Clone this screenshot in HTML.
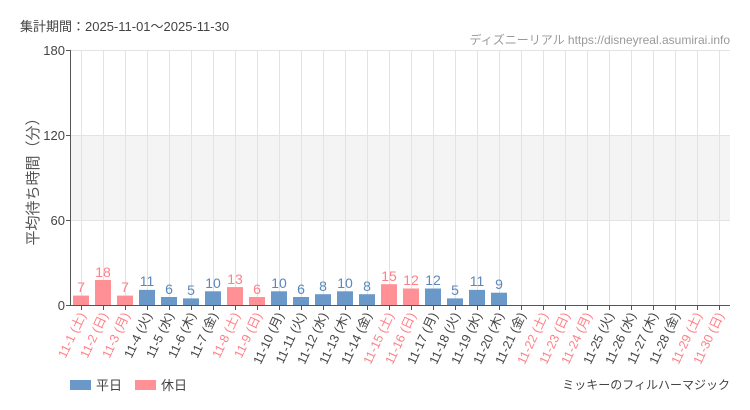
<!DOCTYPE html>
<html><head><meta charset="utf-8"><style>
body{margin:0;background:#fff;}
svg{display:block;font-family:"Liberation Sans","Noto Sans CJK JP",sans-serif;}
.v{font-family:"Liberation Sans Narrow","Liberation Sans","Noto Sans CJK JP",sans-serif;font-size:14px;text-anchor:middle;}
.x{font-size:12.5px;text-anchor:end;}
.b{fill:#6a98c8}.h{fill:#ff9095}
.tb{fill:#5a88b8}.th{fill:#ff8088}
.lb{fill:#444}.lh{fill:#ff8088}
</style></head><body>
<svg width="750" height="410" viewBox="0 0 750 410">
<text x="20" y="31" font-size="13" fill="#444">集計期間：2025-11-01～2025-11-30</text>
<text x="730" y="44" font-size="12" fill="#999" text-anchor="end" font-family="Liberation Sans Narrow,Liberation Sans,Noto Sans CJK JP,sans-serif">ディズニーリアル https://disneyreal.asumirai.info</text>
<rect x="70" y="135.5" width="660" height="85" fill="#f4f4f4"/>
<g stroke="#e3e3e3" stroke-width="1">
<line x1="70" y1="50.5" x2="730" y2="50.5"/><line x1="70" y1="135.5" x2="730" y2="135.5"/><line x1="70" y1="220.5" x2="730" y2="220.5"/>
<path d="M81.5 51V305M103.5 51V305M125.5 51V305M147.5 51V305M169.5 51V305M191.5 51V305M213.5 51V305M235.5 51V305M257.5 51V305M279.5 51V305M301.5 51V305M323.5 51V305M345.5 51V305M367.5 51V305M389.5 51V305M411.5 51V305M433.5 51V305M455.5 51V305M477.5 51V305M499.5 51V305M521.5 51V305M543.5 51V305M565.5 51V305M587.5 51V305M609.5 51V305M631.5 51V305M653.5 51V305M675.5 51V305M697.5 51V305M719.5 51V305"/>
</g>
<g>
<rect class="h" x="73" y="295.6" width="16" height="9.9"/>
<rect class="h" x="95" y="280" width="16" height="25.5"/>
<rect class="h" x="117" y="295.6" width="16" height="9.9"/>
<rect class="b" x="139" y="289.9" width="16" height="15.6"/>
<rect class="b" x="161" y="297" width="16" height="8.5"/>
<rect class="b" x="183" y="298.4" width="16" height="7.1"/>
<rect class="b" x="205" y="291.3" width="16" height="14.2"/>
<rect class="h" x="227" y="287.1" width="16" height="18.4"/>
<rect class="h" x="249" y="297" width="16" height="8.5"/>
<rect class="b" x="271" y="291.3" width="16" height="14.2"/>
<rect class="b" x="293" y="297" width="16" height="8.5"/>
<rect class="b" x="315" y="294.2" width="16" height="11.3"/>
<rect class="b" x="337" y="291.3" width="16" height="14.2"/>
<rect class="b" x="359" y="294.2" width="16" height="11.3"/>
<rect class="h" x="381" y="284.2" width="16" height="21.3"/>
<rect class="h" x="403" y="288.5" width="16" height="17"/>
<rect class="b" x="425" y="288.5" width="16" height="17"/>
<rect class="b" x="447" y="298.4" width="16" height="7.1"/>
<rect class="b" x="469" y="289.9" width="16" height="15.6"/>
<rect class="b" x="491" y="292.7" width="16" height="12.8"/>
</g>
<g class="v">
<text class="th" x="81" y="292">7</text><text class="th" x="103" y="277">18</text><text class="th" x="125" y="292">7</text>
<text class="tb" x="147" y="286">11</text><text class="tb" x="169" y="294">6</text><text class="tb" x="191" y="295">5</text>
<text class="tb" x="213" y="288">10</text><text class="th" x="235" y="284">13</text><text class="th" x="257" y="294">6</text>
<text class="tb" x="279" y="288">10</text><text class="tb" x="301" y="294">6</text><text class="tb" x="323" y="291">8</text>
<text class="tb" x="345" y="288">10</text><text class="tb" x="367" y="291">8</text><text class="th" x="389" y="281">15</text>
<text class="th" x="411" y="285">12</text><text class="tb" x="433" y="285">12</text><text class="tb" x="455" y="295">5</text>
<text class="tb" x="477" y="286">11</text><text class="tb" x="499" y="289">9</text>
</g>
<g stroke="#555" stroke-width="1">
<line x1="70.5" y1="50" x2="70.5" y2="306"/>
<line x1="70" y1="305.5" x2="730" y2="305.5"/>
<path d="M66 50.5H70M66 135.5H70M66 220.5H70M66 305.5H70"/>
<path d="M81.5 305V310M103.5 305V310M125.5 305V310M147.5 305V310M169.5 305V310M191.5 305V310M213.5 305V310M235.5 305V310M257.5 305V310M279.5 305V310M301.5 305V310M323.5 305V310M345.5 305V310M367.5 305V310M389.5 305V310M411.5 305V310M433.5 305V310M455.5 305V310M477.5 305V310M499.5 305V310M521.5 305V310M543.5 305V310M565.5 305V310M587.5 305V310M609.5 305V310M631.5 305V310M653.5 305V310M675.5 305V310M697.5 305V310M719.5 305V310"/>
</g>
<g font-size="13" fill="#444" text-anchor="end">
<text x="65" y="55">180</text><text x="65" y="140">120</text><text x="65" y="225">60</text><text x="65" y="310">0</text>
</g>
<text transform="translate(38,178) rotate(-90)" font-size="15" fill="#555" text-anchor="middle">平均待ち時間（分）</text>
<g class="x">
<text class="lh" transform="translate(86,315) rotate(-65)">11-1 (土)</text>
<text class="lh" transform="translate(108,315) rotate(-65)">11-2 (日)</text>
<text class="lh" transform="translate(130,315) rotate(-65)">11-3 (月)</text>
<text class="lb" transform="translate(152,315) rotate(-65)">11-4 (火)</text>
<text class="lb" transform="translate(174,315) rotate(-65)">11-5 (水)</text>
<text class="lb" transform="translate(196,315) rotate(-65)">11-6 (木)</text>
<text class="lb" transform="translate(218,315) rotate(-65)">11-7 (金)</text>
<text class="lh" transform="translate(240,315) rotate(-65)">11-8 (土)</text>
<text class="lh" transform="translate(262,315) rotate(-65)">11-9 (日)</text>
<text class="lb" transform="translate(284,315) rotate(-65)">11-10 (月)</text>
<text class="lb" transform="translate(306,315) rotate(-65)">11-11 (火)</text>
<text class="lb" transform="translate(328,315) rotate(-65)">11-12 (水)</text>
<text class="lb" transform="translate(350,315) rotate(-65)">11-13 (木)</text>
<text class="lb" transform="translate(372,315) rotate(-65)">11-14 (金)</text>
<text class="lh" transform="translate(394,315) rotate(-65)">11-15 (土)</text>
<text class="lh" transform="translate(416,315) rotate(-65)">11-16 (日)</text>
<text class="lb" transform="translate(438,315) rotate(-65)">11-17 (月)</text>
<text class="lb" transform="translate(460,315) rotate(-65)">11-18 (火)</text>
<text class="lb" transform="translate(482,315) rotate(-65)">11-19 (水)</text>
<text class="lb" transform="translate(504,315) rotate(-65)">11-20 (木)</text>
<text class="lb" transform="translate(526,315) rotate(-65)">11-21 (金)</text>
<text class="lh" transform="translate(548,315) rotate(-65)">11-22 (土)</text>
<text class="lh" transform="translate(570,315) rotate(-65)">11-23 (日)</text>
<text class="lh" transform="translate(592,315) rotate(-65)">11-24 (月)</text>
<text class="lb" transform="translate(614,315) rotate(-65)">11-25 (火)</text>
<text class="lb" transform="translate(636,315) rotate(-65)">11-26 (水)</text>
<text class="lb" transform="translate(658,315) rotate(-65)">11-27 (木)</text>
<text class="lb" transform="translate(680,315) rotate(-65)">11-28 (金)</text>
<text class="lh" transform="translate(702,315) rotate(-65)">11-29 (土)</text>
<text class="lh" transform="translate(724,315) rotate(-65)">11-30 (日)</text>
</g>
<rect x="70" y="380" width="21" height="10" fill="#6a98c8"/>
<text x="96" y="390" font-size="13" fill="#444">平日</text>
<rect x="135" y="380" width="21" height="10" fill="#ff9095"/>
<text x="161" y="390" font-size="13" fill="#444">休日</text>
<text x="730" y="389" font-size="12" fill="#444" text-anchor="end">ミッキーのフィルハーマジック</text>
</svg>
</body></html>
